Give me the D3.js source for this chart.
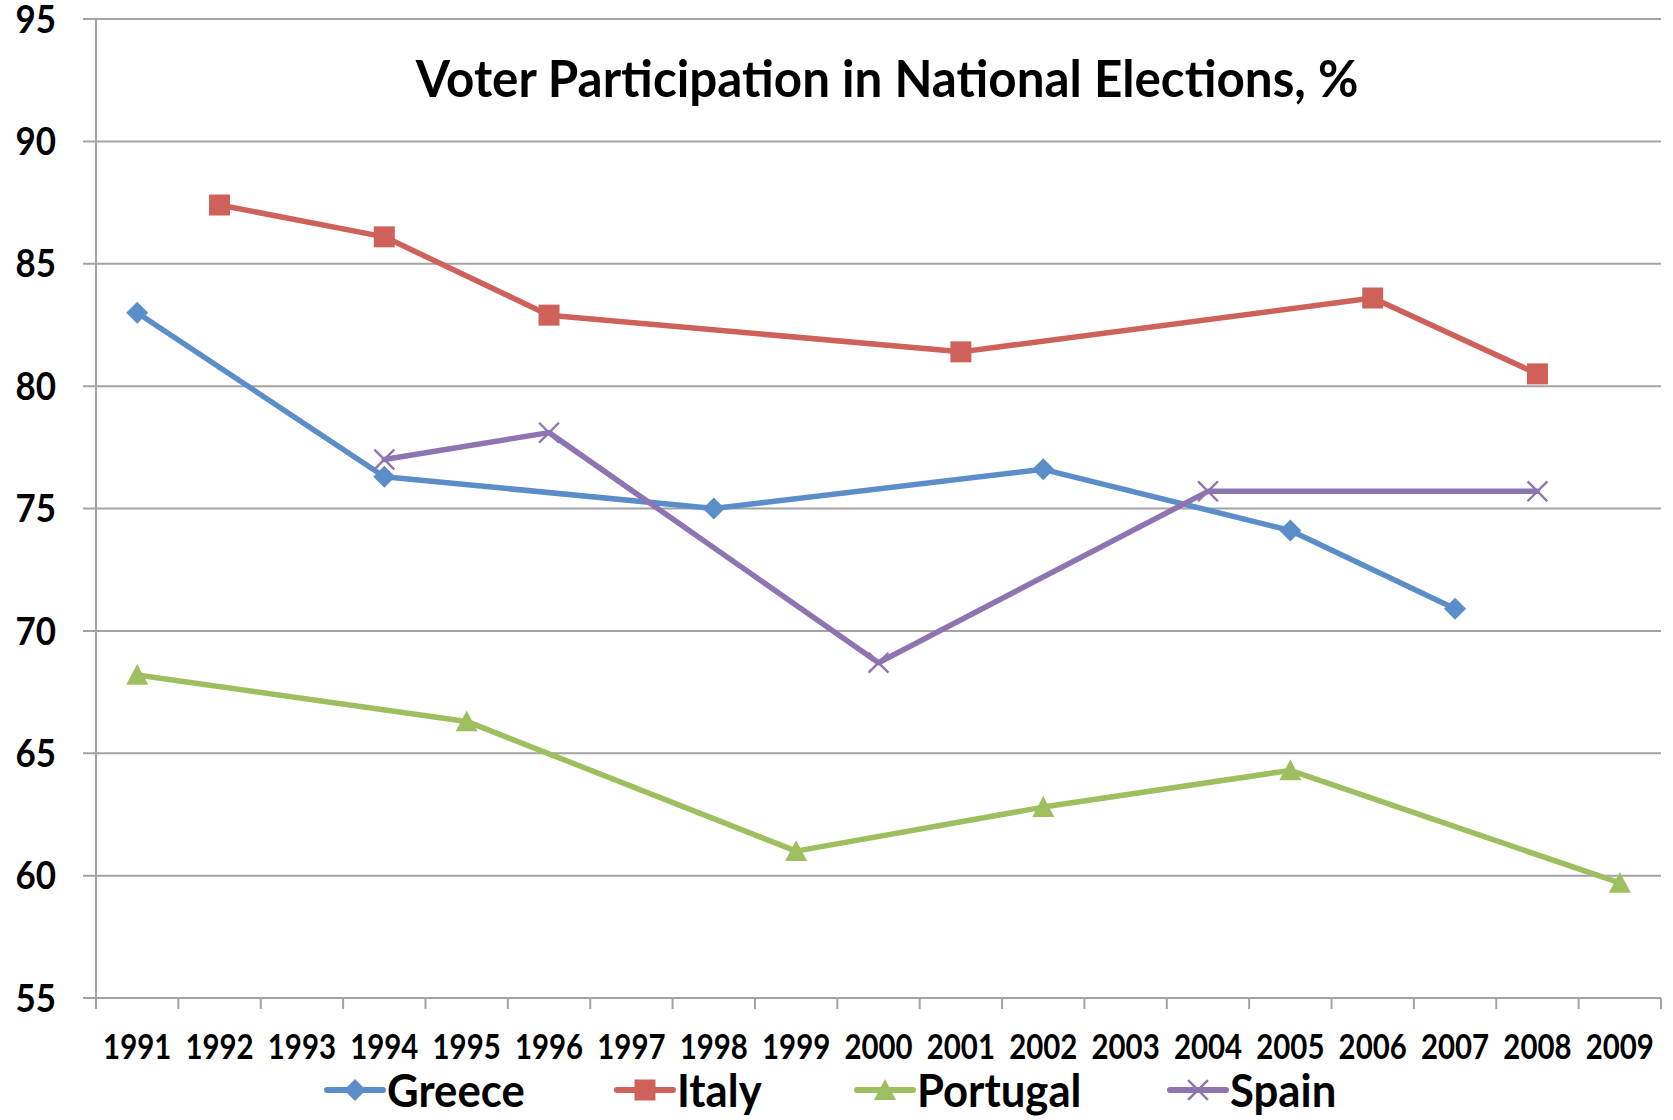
<!DOCTYPE html>
<html>
<head>
<meta charset="utf-8">
<script src="https://cdn.jsdelivr.net/npm/d3@7"></script>
<style>
  html, body { margin: 0; padding: 0; background: #fff; }
  svg { display: block; font-family: Lato, "Open Sans", sans-serif; font-weight: 700; }
</style>
</head>
<body>
<svg id="chart" width="1673" height="1120"></svg>
<script>
// Election years on the category axis
const years = ["1991","1992","1993","1994","1995","1996","1997","1998","1999","2000",
               "2001","2002","2003","2004","2005","2006","2007","2008","2009"];

// Turnout (%) per country; null where no election was held
const greece   = [83.0, null, null, 76.3, null, null, null, 75.0, null, null, null, 76.6, null, null, 74.1, null, 70.9, null, null];
const italy    = [null, 87.4, null, 86.1, null, 82.9, null, null, null, null, 81.4, null, null, null, null, 83.6, null, 80.5, null];
const portugal = [68.2, null, null, null, 66.3, null, null, null, 61.0, null, null, 62.8, null, null, 64.3, null, null, null, 59.7];
const spain    = [null, null, null, 77.0, null, 78.1, null, null, null, 68.7, null, null, null, 75.7, null, null, null, 75.7, null];

const seriesNames = ["Greece", "Italy", "Portugal", "Spain"];
const yTicks = [55, 60, 65, 70, 75, 80, 85, 90, 95];
const titleText = "Voter Participation in National Elections, %";

const seriesValues = [greece, italy, portugal, spain];
const colors = ["#5B8EC9", "#CE625A", "#9EBF5F", "#8E74B0"];
const symbols = ["diamond", "square", "triangle", "cross"];

const svg = d3.select("#chart");
const plotLeft = 96, plotRight = 1661, plotTop = 19, plotBottom = 998;

const x = d3.scaleBand().domain(years).range([plotLeft, plotRight]).paddingInner(0).paddingOuter(0);
const y = d3.scaleLinear().domain([55, 95]).range([plotBottom, plotTop]);

// Horizontal gridlines
svg.append("g")
  .selectAll("line")
  .data(yTicks)
  .join("line")
  .attr("x1", plotLeft - 13).attr("x2", plotRight)
  .attr("y1", d => y(d)).attr("y2", d => y(d))
  .attr("stroke", "#A3A3A3").attr("stroke-width", 2);

// Vertical axis line
svg.append("line")
  .attr("x1", plotLeft).attr("x2", plotLeft)
  .attr("y1", plotTop).attr("y2", plotBottom)
  .attr("stroke", "#A3A3A3").attr("stroke-width", 2);

// Y tick labels (slightly condensed, tall digits)
svg.append("g")
  .selectAll("text")
  .data(yTicks)
  .join("text")
  .attr("transform", d => `translate(56,${y(d)}) scale(0.92,1)`)
  .attr("dy", "0.36em")
  .attr("text-anchor", "end")
  .attr("font-size", 38)
  .attr("fill", "#000")
  .text(d => d);

// X axis tick marks at category boundaries
const boundaries = years.map(d => x(d)).concat([plotRight]);
svg.append("g")
  .selectAll("line")
  .data(boundaries)
  .join("line")
  .attr("x1", d => d).attr("x2", d => d)
  .attr("y1", plotBottom).attr("y2", plotBottom + 11)
  .attr("stroke", "#A3A3A3").attr("stroke-width", 2);

// X tick labels, condensed so neighbours keep a small gap
svg.append("g")
  .selectAll("text")
  .data(years)
  .join("text")
  .attr("transform", d => `translate(${x(d) + x.bandwidth() / 2},1059) scale(0.84,1)`)
  .attr("text-anchor", "middle")
  .attr("font-size", 35)
  .attr("fill", "#000")
  .text(d => d);

// Title
svg.append("text")
  .attr("transform", "translate(887,97) scale(0.95,1)")
  .attr("text-anchor", "middle")
  .attr("font-size", 52)
  .attr("fill", "#000")
  .text(titleText);

function drawMarker(g, type, color, size) {
  const h = size / 2;
  if (type === "diamond") {
    g.append("path").attr("d", `M0,${-h}L${h},0L0,${h}L${-h},0Z`).attr("fill", color);
  } else if (type === "square") {
    g.append("rect").attr("x", -h).attr("y", -h).attr("width", size).attr("height", size)
      .attr("fill", color);
  } else if (type === "triangle") {
    g.append("path").attr("d", `M0,${-h}L${h},${h * 0.9}L${-h},${h * 0.9}Z`).attr("fill", color);
  } else if (type === "cross") {
    const c = h * 0.9;
    g.append("path").attr("d", `M${-c},${-c}L${c},${c}M${-c},${c}L${c},${-c}`)
      .attr("stroke", color).attr("stroke-width", 2.4).attr("fill", "none");
  }
}

const markerSize = [22, 21, 22, 22];
const cx = d => x(d.year) + x.bandwidth() / 2;

const line = d3.line().x(cx).y(d => y(d.value));

seriesValues.forEach((vals, i) => {
  const pts = years.map((yr, j) => ({ year: yr, value: vals[j] })).filter(d => d.value != null);
  const g = svg.append("g");
  g.append("path")
    .attr("d", line(pts))
    .attr("fill", "none")
    .attr("stroke", colors[i])
    .attr("stroke-width", 5.5)
    .attr("stroke-linejoin", "round")
    .attr("stroke-linecap", "round");
  pts.forEach(p => {
    const m = g.append("g").attr("transform", `translate(${cx(p)},${y(p.value)})`);
    drawMarker(m, symbols[i], colors[i], markerSize[i]);
  });
});

// Legend
const legendX = [327, 617, 857, 1170];
const legendY = 1090;
seriesNames.forEach((name, i) => {
  const g = svg.append("g").attr("transform", `translate(${legendX[i]},${legendY})`);
  g.append("line").attr("x1", 0).attr("x2", 56).attr("y1", 0).attr("y2", 0)
    .attr("stroke", colors[i]).attr("stroke-width", 6).attr("stroke-linecap", "round");
  const m = g.append("g").attr("transform", "translate(28,0)");
  drawMarker(m, symbols[i], colors[i], markerSize[i]);
  g.append("text")
    .attr("transform", "translate(60,0) scale(0.95,1)")
    .attr("dy", "0.36em")
    .attr("font-size", 46).attr("fill", "#000")
    .text(name);
});
</script>
</body>
</html>
